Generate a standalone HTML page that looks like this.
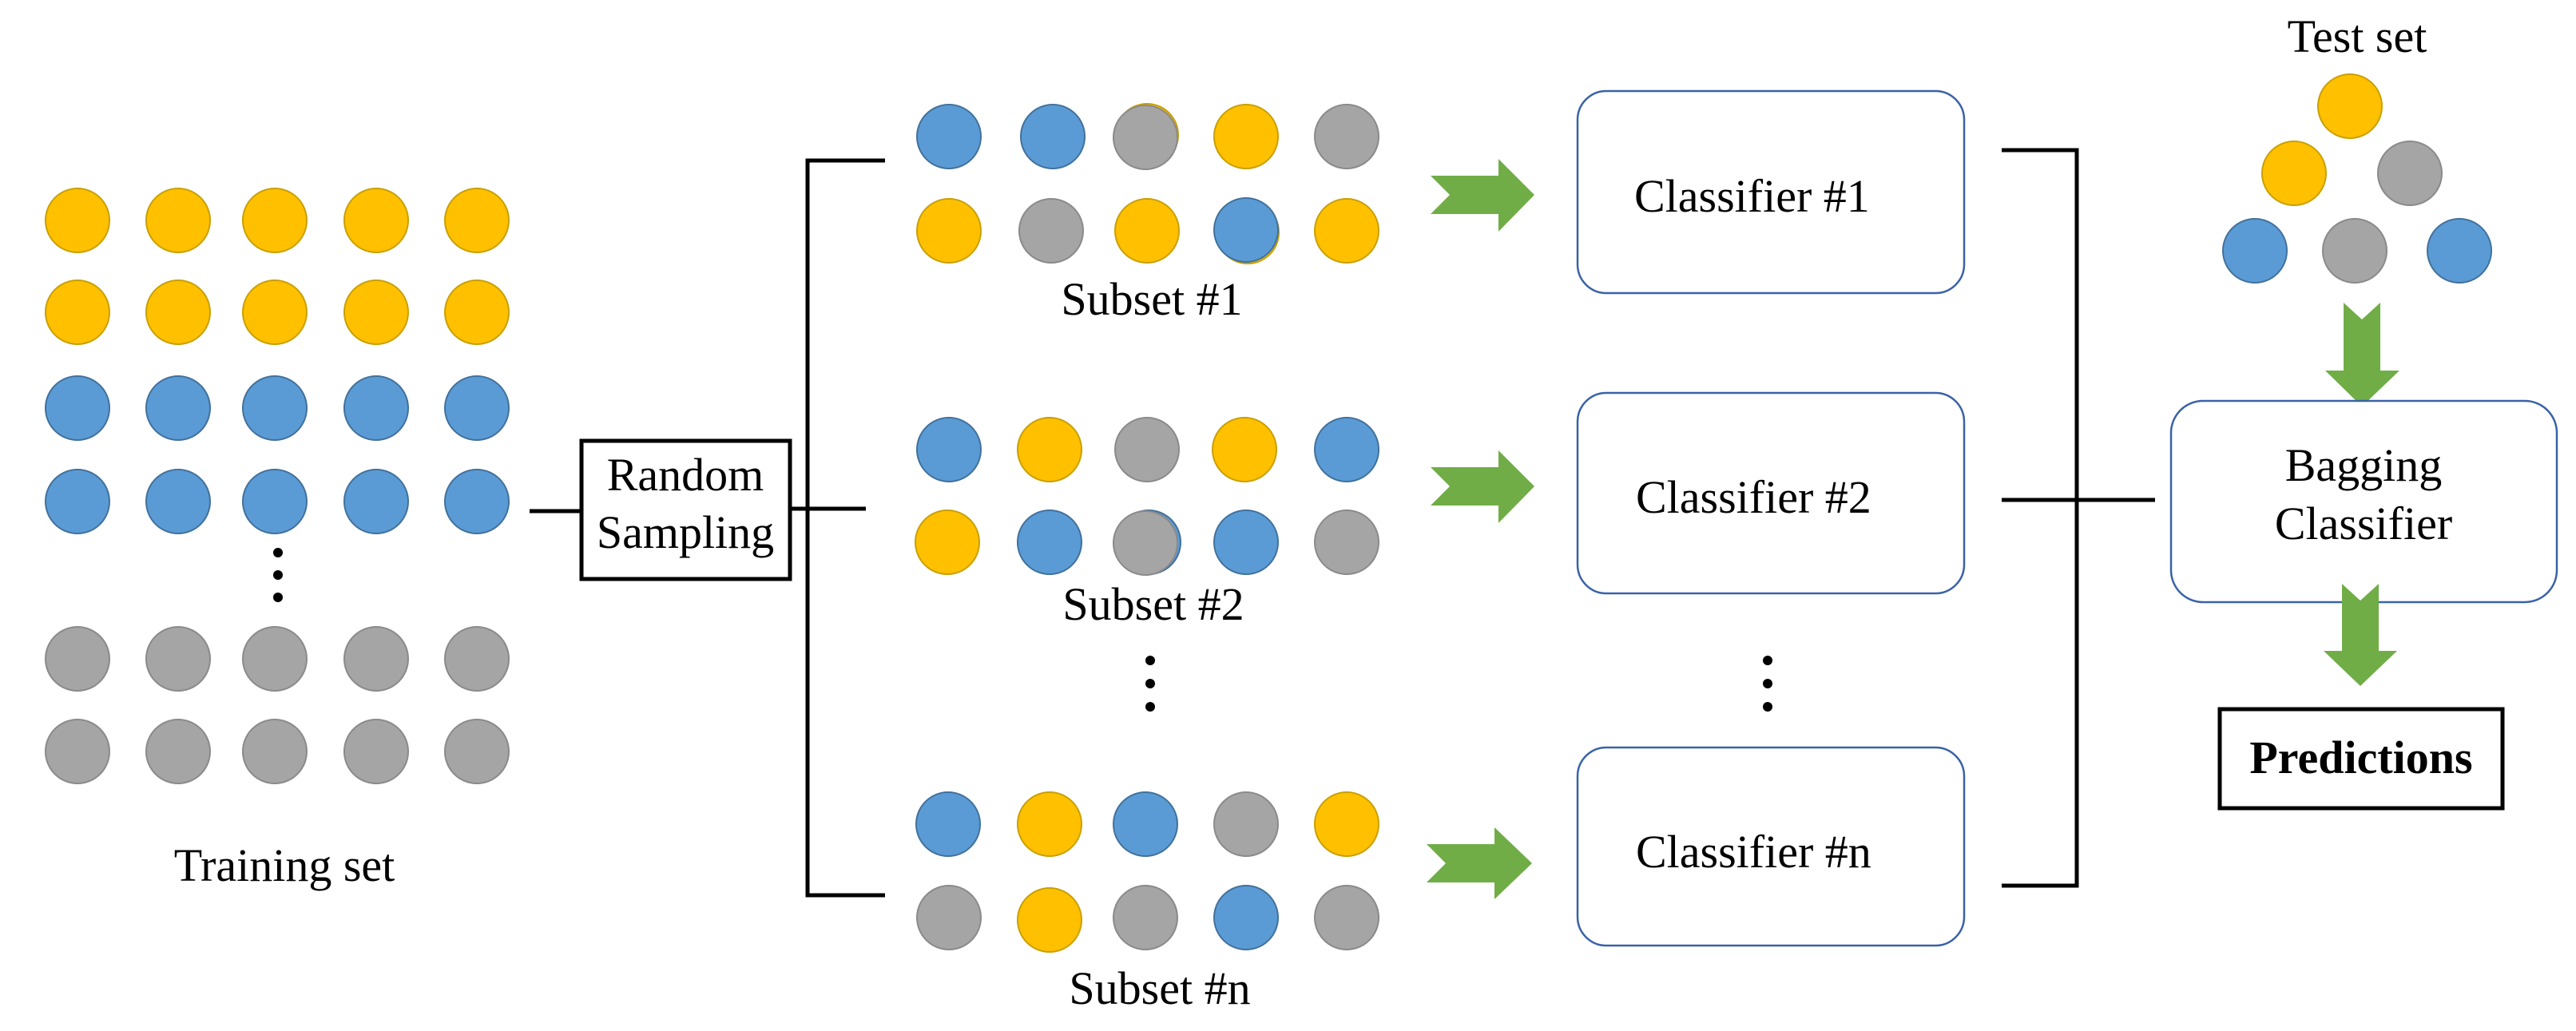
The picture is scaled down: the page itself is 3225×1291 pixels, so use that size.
<!DOCTYPE html>
<html><head><meta charset="utf-8"><style>
html,body{margin:0;padding:0;background:#fff;}
svg{display:block;}
text{font-family:"Liberation Serif",serif;fill:#000;}
</style></head><body>
<svg width="3225" height="1291" viewBox="0 0 3225 1291" xmlns="http://www.w3.org/2000/svg">
<defs>
<style>
.Y{fill:#FFC000;stroke:#C9A000;stroke-width:2}
.B{fill:#5B9BD5;stroke:#41719C;stroke-width:2}
.G{fill:#A5A5A5;stroke:#8A8A8A;stroke-width:2}
.ln{stroke:#000;stroke-width:5;fill:none}
.bx{fill:#fff;stroke:#3A62A7;stroke-width:2.5}
.ar{fill:#70AD47}
</style>
</defs>
<!-- Training set -->
<g>
<circle class="Y" cx="97" cy="276" r="40"/><circle class="Y" cx="223" cy="276" r="40"/><circle class="Y" cx="344" cy="276" r="40"/><circle class="Y" cx="471" cy="276" r="40"/><circle class="Y" cx="597" cy="276" r="40"/>
<circle class="Y" cx="97" cy="391" r="40"/><circle class="Y" cx="223" cy="391" r="40"/><circle class="Y" cx="344" cy="391" r="40"/><circle class="Y" cx="471" cy="391" r="40"/><circle class="Y" cx="597" cy="391" r="40"/>
<circle class="B" cx="97" cy="511" r="40"/><circle class="B" cx="223" cy="511" r="40"/><circle class="B" cx="344" cy="511" r="40"/><circle class="B" cx="471" cy="511" r="40"/><circle class="B" cx="597" cy="511" r="40"/>
<circle class="B" cx="97" cy="628" r="40"/><circle class="B" cx="223" cy="628" r="40"/><circle class="B" cx="344" cy="628" r="40"/><circle class="B" cx="471" cy="628" r="40"/><circle class="B" cx="597" cy="628" r="40"/>
<circle class="G" cx="97" cy="825" r="40"/><circle class="G" cx="223" cy="825" r="40"/><circle class="G" cx="344" cy="825" r="40"/><circle class="G" cx="471" cy="825" r="40"/><circle class="G" cx="597" cy="825" r="40"/>
<circle class="G" cx="97" cy="941" r="40"/><circle class="G" cx="223" cy="941" r="40"/><circle class="G" cx="344" cy="941" r="40"/><circle class="G" cx="471" cy="941" r="40"/><circle class="G" cx="597" cy="941" r="40"/>
<circle cx="348" cy="692" r="6"/><circle cx="348" cy="720" r="6"/><circle cx="348" cy="748" r="6"/>
<text x="356" y="1103" font-size="58" text-anchor="middle">Training set</text>
</g>
<!-- Random sampling -->
<line class="ln" x1="663" y1="640" x2="728" y2="640"/>
<rect x="728" y="552" width="261" height="173" fill="#fff" stroke="#000" stroke-width="5"/>
<text x="858" y="614" font-size="58" text-anchor="middle">Random</text>
<text x="858" y="686" font-size="58" text-anchor="middle">Sampling</text>
<line class="ln" x1="989" y1="637" x2="1084" y2="637"/>
<polyline class="ln" points="1108,201 1011,201 1011,1121 1108,1121"/>
<!-- Subsets -->
<g>
<circle class="B" cx="1188" cy="171" r="40"/><circle class="B" cx="1318" cy="171" r="40"/><circle class="Y" cx="1436" cy="169" r="39"/><circle class="G" cx="1434" cy="172" r="40"/><circle class="Y" cx="1560" cy="171" r="40"/><circle class="G" cx="1686" cy="171" r="40"/>
<circle class="Y" cx="1188" cy="289" r="40"/><circle class="G" cx="1316" cy="289" r="40"/><circle class="Y" cx="1436" cy="289" r="40"/><circle class="Y" cx="1562" cy="291" r="39"/><circle class="B" cx="1560" cy="288" r="40"/><circle class="Y" cx="1686" cy="289" r="40"/>
<text x="1442" y="394" font-size="58" text-anchor="middle">Subset #1</text>

<circle class="B" cx="1188" cy="563" r="40"/><circle class="Y" cx="1314" cy="563" r="40"/><circle class="G" cx="1436" cy="563" r="40"/><circle class="Y" cx="1558" cy="563" r="40"/><circle class="B" cx="1686" cy="563" r="40"/>
<circle class="Y" cx="1186" cy="679" r="40"/><circle class="B" cx="1314" cy="679" r="40"/><circle class="B" cx="1438" cy="679" r="40"/><circle class="G" cx="1434" cy="680" r="40"/><circle class="B" cx="1560" cy="679" r="40"/><circle class="G" cx="1686" cy="679" r="40"/>
<text x="1444" y="776" font-size="58" text-anchor="middle">Subset #2</text>
<circle cx="1440" cy="827" r="6"/><circle cx="1440" cy="856" r="6"/><circle cx="1440" cy="885" r="6"/>

<circle class="B" cx="1187" cy="1032" r="40"/><circle class="Y" cx="1314" cy="1032" r="40"/><circle class="B" cx="1434" cy="1032" r="40"/><circle class="G" cx="1560" cy="1032" r="40"/><circle class="Y" cx="1686" cy="1032" r="40"/>
<circle class="G" cx="1188" cy="1149" r="40"/><circle class="Y" cx="1314" cy="1152" r="40"/><circle class="G" cx="1434" cy="1149" r="40"/><circle class="B" cx="1560" cy="1149" r="40"/><circle class="G" cx="1686" cy="1149" r="40"/>
<text x="1452" y="1257" font-size="58" text-anchor="middle">Subset #n</text>
</g>
<!-- green right arrows -->
<polygon class="ar" points="1791,220 1876,220 1876,199 1921,244 1876,290 1876,268 1791,268 1815,244"/>
<polygon class="ar" points="1791,585 1876,585 1876,564 1921,609 1876,655 1876,633 1791,633 1815,609"/>
<polygon class="ar" points="1786,1057 1871,1057 1871,1036 1918,1081 1871,1126 1871,1105 1786,1105 1810,1081"/>
<!-- Classifiers -->
<rect class="bx" x="1975" y="114" width="484" height="253" rx="36" ry="36"/>
<text x="2046" y="265" font-size="58">Classifier #1</text>
<rect class="bx" x="1975" y="492" width="484" height="251" rx="36" ry="36"/>
<text x="2048" y="642" font-size="58">Classifier #2</text>
<circle cx="2213" cy="827" r="6"/><circle cx="2213" cy="856" r="6"/><circle cx="2213" cy="885" r="6"/>
<rect class="bx" x="1975" y="936" width="484" height="248" rx="36" ry="36"/>
<text x="2048" y="1086" font-size="58">Classifier #n</text>
<!-- right bracket -->
<polyline class="ln" points="2506,188 2600,188 2600,1109 2506,1109"/>
<line class="ln" x1="2506" y1="626" x2="2698" y2="626"/>
<!-- Test set -->
<text x="2951" y="65" font-size="58" text-anchor="middle">Test set</text>
<circle class="Y" cx="2942" cy="133" r="40"/>
<circle class="Y" cx="2872" cy="217" r="40"/><circle class="G" cx="3017" cy="217" r="40"/>
<circle class="B" cx="2823" cy="314" r="40"/><circle class="G" cx="2948" cy="314" r="40"/><circle class="B" cx="3079" cy="314" r="40"/>
<polygon class="ar" points="2934,379 2957,400 2980,379 2980,464 3004,464 2957,509 2911,464 2934,464"/>
<rect class="bx" x="2718" y="502" width="483" height="252" rx="40" ry="40"/>
<text x="2959" y="602" font-size="58" text-anchor="middle">Bagging</text>
<text x="2959" y="675" font-size="58" text-anchor="middle">Classifier</text>
<polygon class="ar" points="2932,731 2955,752 2978,731 2978,815 3001,815 2955,859 2909,815 2932,815"/>
<rect x="2779" y="888" width="354" height="124" fill="#fff" stroke="#000" stroke-width="5"/>
<text x="2956" y="968" font-size="58" font-weight="bold" text-anchor="middle">Predictions</text>
</svg>
</body></html>
